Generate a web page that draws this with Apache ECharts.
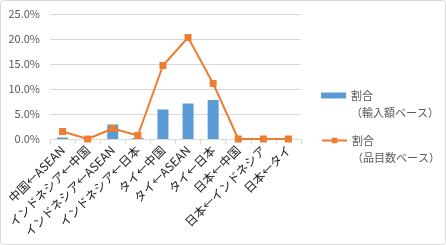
<!DOCTYPE html>
<html><head><meta charset="utf-8">
<script src="https://cdn.jsdelivr.net/npm/echarts@6/dist/echarts.min.js"></script>
<style>html,body{margin:0;padding:0;background:#fff}#c{width:446px;height:245px}</style>
</head><body><div id="c"></div>
<script>
const categories = ["中国←ASEAN","インドネシア←中国","インドネシア←ASEAN","インドネシア←日本","タイ←中国","タイ←ASEAN","タイ←日本","日本←中国","日本←インドネシア","日本←タイ"];
const importShare = [0.3, 0.0, 2.9, 0.2, 5.9, 7.1, 7.8, 0.0, 0.0, 0.0];
const itemShare = [1.5, 0.0, 2.1, 0.7, 14.7, 20.3, 11.1, 0.0, 0.0, 0.0];
const yTicks = [0, 5, 10, 15, 20, 25];
const seriesNames = ["割合\n（輸入額ベース）", "割合\n（品目数ベース）"];

const font = '"Noto Sans CJK JP", "Noto Sans", sans-serif';
const legendText = {fontSize: 11, color: '#595959', fontFamily: font, lineHeight: 17};
const chart = echarts.init(document.getElementById('c'));
chart.setOption({
  animation: false,
  backgroundColor: '#fff',
  textStyle: {fontFamily: font},
  graphic: [{type: 'rect', shape: {x: 0.5, y: 0.5, width: 445, height: 244, r: 3},
    style: {fill: 'none', stroke: '#d9d9d9', lineWidth: 1}, z: -1}],
  grid: {left: 50, right: 145, top: 14, bottom: 106},
  legend: [
    {left: 321, top: 70, padding: 0, itemWidth: 25, itemHeight: 6, textStyle: legendText,
      formatter: n => '\u00a0\n' + n, data: [{name: seriesNames[0], icon: 'rect'}]},
    {left: 321, top: 115, padding: 0, itemWidth: 25, itemHeight: 7, textStyle: legendText,
      formatter: n => '\u00a0\n' + n, data: [{name: seriesNames[1]}]}
  ],
  xAxis: {
    type: 'category', data: categories,
    axisLine: {lineStyle: {color: '#d9d9d9'}},
    axisTick: {show: true, length: 5, lineStyle: {color: '#d9d9d9'}},
    axisLabel: {rotate: 45, interval: 0, fontSize: 12, color: '#222', fontFamily: font, margin: 9}
  },
  yAxis: {
    type: 'value', min: 0, max: 25, interval: 5,
    axisLine: {show: false}, axisTick: {show: false},
    splitLine: {lineStyle: {color: '#d9d9d9'}},
    axisLabel: {fontSize: 11, color: '#595959', fontFamily: font, margin: 10,
      formatter: v => yTicks.includes(v) ? v.toFixed(1) + '%' : ''}
  },
  series: [
    {name: seriesNames[0], type: 'bar', data: importShare, barWidth: 11,
      itemStyle: {color: '#5B9BD5'}},
    {name: seriesNames[1], type: 'line', data: itemShare, symbol: 'rect', symbolSize: 7,
      lineStyle: {color: '#ED7D31', width: 2}, itemStyle: {color: '#ED7D31'}}
  ]
});
</script></body></html>
